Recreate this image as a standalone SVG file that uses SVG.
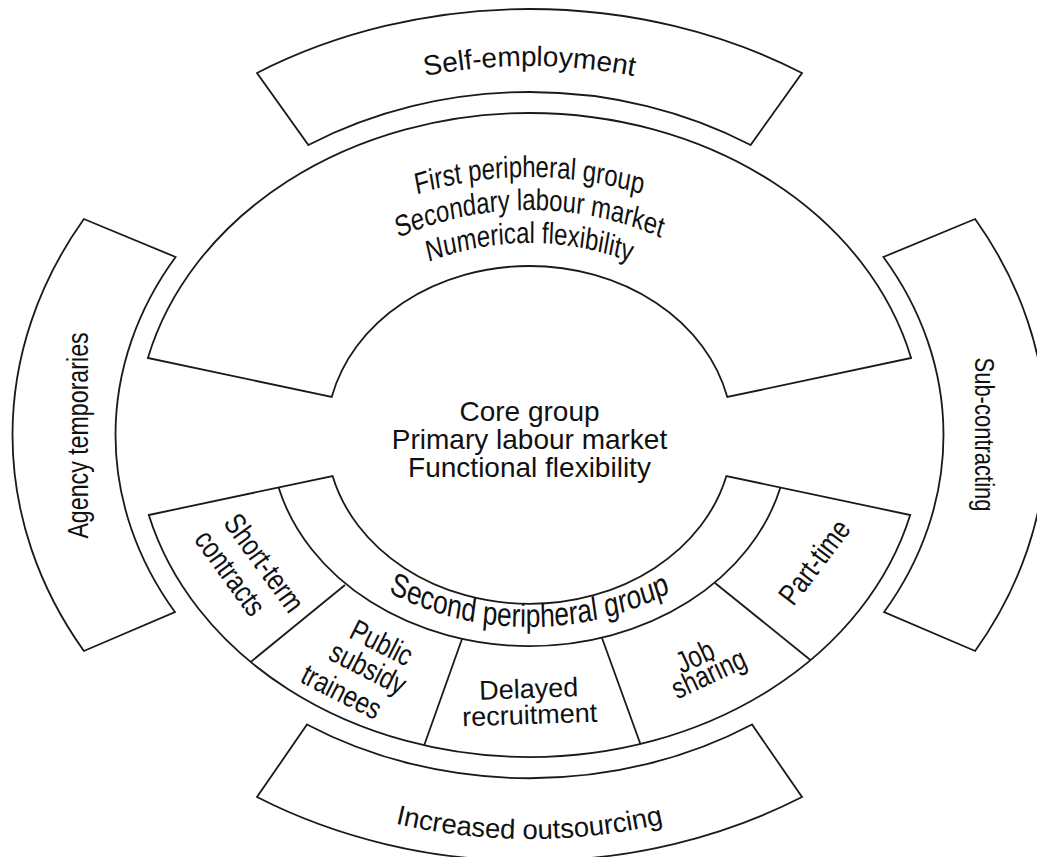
<svg xmlns="http://www.w3.org/2000/svg" width="1037" height="857" viewBox="0 0 1037 857">
<style>
.shape{fill:#fff;stroke:#1a1a1a;stroke-width:1.8;stroke-linejoin:miter}
.line{fill:none;stroke:#1a1a1a;stroke-width:1.8}
.reg{font-family:'Liberation Sans',Arial,sans-serif;fill:#111}
.nar{font-family:'Liberation Sans',Arial,sans-serif;fill:#111}
</style>
<defs>
<path id="p-self" d="M 80.9,435 A 448.6 369 0 0 1 978.1,435"/>
<path id="p-out" d="M 39.8,435 A 489.7 404 0 0 0 1019.2,435"/>
<path id="p-fp1" d="M -390,435 A 390 258 0 0 1 390,435"/>
<path id="p-fp2" d="M -340,435 A 340 225 0 0 1 340,435"/>
<path id="p-fp3" d="M -290,435 A 290 192 0 0 1 290,435"/>
<path id="p-sp" d="M -306.3,435 A 306.3 192 0 0 0 306.3,435"/>
</defs>
<rect width="1037" height="857" fill="#fff"/>

<g id="node-self-employment">
<path class="shape" d="M 257,73 A 517 426 0 0 1 802,73 L 750.6,145 A 414 343 0 0 0 308.4,145 Z"/>
<text class="reg" font-size="28" text-anchor="middle"><textPath href="#p-self" startOffset="50%">Self-employment</textPath></text>
</g>

<g id="node-agency-temporaries">
<path class="shape" d="M 175.6,257 L 83.9,219 A 517 426 0 0 0 83.9,651 L 174.9,612 A 414 343 0 0 1 175.6,257 Z"/>
<text class="nar" font-size="29" text-anchor="middle" transform="translate(88,435.5) rotate(-90) scale(0.8,1)">Agency temporaries</text>
</g>

<g id="node-sub-contracting">
<path class="shape" d="M 883.4,257 L 975.1,219 A 517 426 0 0 1 975.1,651 L 884.1,612 A 414 343 0 0 0 883.4,257 Z"/>
<text class="nar" font-size="27.5" text-anchor="middle" transform="translate(975,434.5) rotate(90) scale(0.8,1)">Sub-contracting</text>
</g>

<g id="node-increased-outsourcing">
<path class="shape" d="M 307,724.5 A 414 343 0 0 0 752,724.5 L 802,797 A 517 426 0 0 1 257,797 Z"/>
<text class="reg" font-size="27.5" text-anchor="middle"><textPath href="#p-out" startOffset="50%">Increased outsourcing</textPath></text>
</g>

<g id="node-first-peripheral-group">
<path class="shape" d="M 147.9,358 A 393 322 0 0 1 911.1,358 L 727.3,397 A 203 169 0 0 0 331.7,397 Z"/>
<g class="nar" font-size="30" text-anchor="middle" transform="translate(529.5,0) scale(0.8,1)">
<text><textPath href="#p-fp1" startOffset="50%">First peripheral group</textPath></text>
<text><textPath href="#p-fp2" startOffset="50%">Secondary labour market</textPath></text>
<text><textPath href="#p-fp3" startOffset="50%">Numerical flexibility</textPath></text>
</g>
</g>

<g id="node-core-group">
<g class="reg" font-size="28" text-anchor="middle">
<text x="529.5" y="421">Core group</text>
<text x="529.5" y="449">Primary labour market</text>
<text x="529.5" y="477">Functional flexibility</text>
</g>
</g>

<g id="node-second-peripheral-group">
<path class="shape" d="M 148.8,515 L 332.6,476 A 203 169 0 0 0 726.4,476 L 910.2,515 A 393 322 0 0 1 148.8,515 Z"/>
<path class="line" d="M 278.6,487.5 A 259 211 0 0 0 780.4,487.5"/>
<text class="nar" font-size="33" text-anchor="middle" transform="translate(529.5,0) scale(0.8,1)"><textPath href="#p-sp" startOffset="50%">Second peripheral group</textPath></text>
</g>

<g id="connectors">
<line class="line" x1="345" y1="585" x2="250.5" y2="662.1"/>
<line class="line" x1="462" y1="639" x2="424.2" y2="745.2"/>
<line class="line" x1="602" y1="638" x2="640.3" y2="743.8"/>
<line class="line" x1="715" y1="583" x2="810.7" y2="660.2"/>
</g>

<g id="node-short-term-contracts" class="nar" font-size="30" text-anchor="middle">
<text transform="translate(264,563) rotate(54) scale(0.8,1)" y="10">Short-term</text>
<text transform="translate(230,573) rotate(54) scale(0.8,1)" y="10">contracts</text>
</g>

<g id="node-public-subsidy-trainees" class="nar" font-size="30" text-anchor="middle">
<text transform="translate(381.5,643) rotate(27) scale(0.8,1)" y="10">Public</text>
<text transform="translate(366.5,671) rotate(27) scale(0.8,1)" y="7">subsidy</text>
<text transform="translate(341.5,692) rotate(27) scale(0.8,1)" y="10">trainees</text>
</g>

<g id="node-delayed-recruitment" class="reg" font-size="27" text-anchor="middle" transform="rotate(-2 529.5 711)">
<text x="529.5" y="698">Delayed</text>
<text x="529.5" y="724">recruitment</text>
</g>

<g id="node-job-sharing" class="nar" font-size="30" text-anchor="middle">
<text transform="translate(695,656.5) rotate(-25) scale(0.8,1)" y="10">Job</text>
<text transform="translate(710,676.5) rotate(-25) scale(0.8,1)" y="7">sharing</text>
</g>

<g id="node-part-time" class="nar" font-size="30" text-anchor="middle">
<text transform="translate(817,564) rotate(-53) scale(0.8,1)" y="7">Part-time</text>
</g>
</svg>
